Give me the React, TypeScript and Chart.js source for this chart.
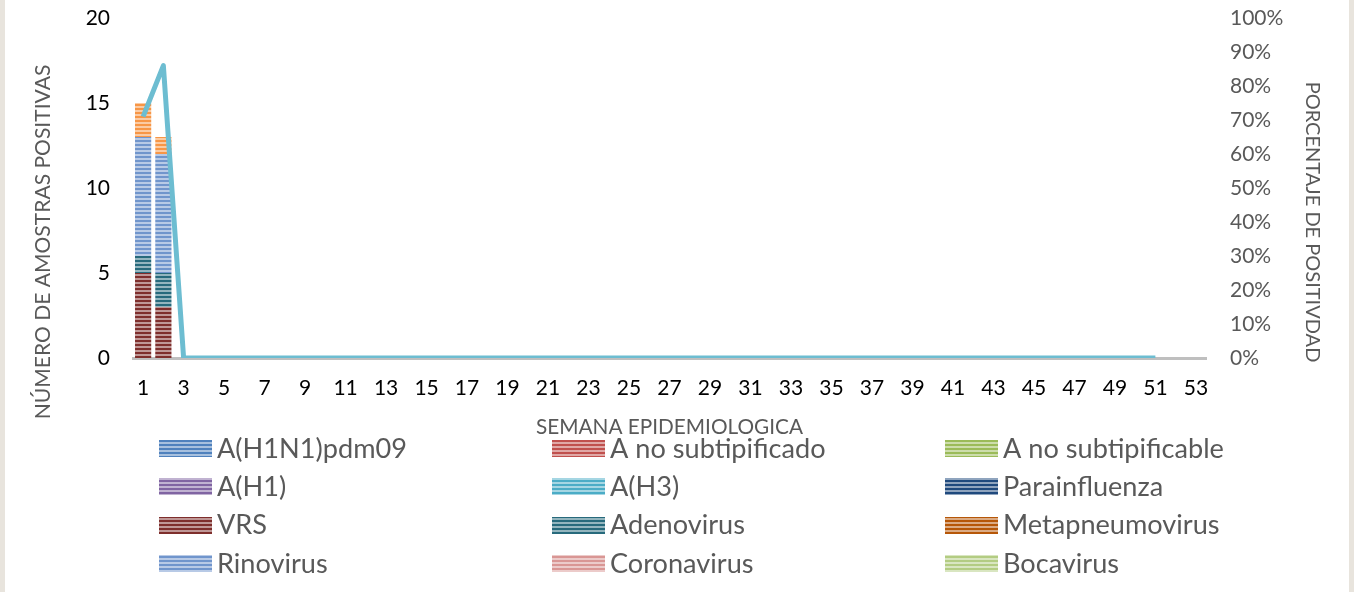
import React, { useEffect, useRef } from 'react';
import { Chart, registerables } from 'chart.js';

Chart.register(...registerables);

const WEEKS = ['1','2','3','4','5','6','7','8','9','10','11','12','13','14','15','16','17','18','19','20','21','22','23','24','25','26','27','28','29','30','31','32','33','34','35','36','37','38','39','40','41','42','43','44','45','46','47','48','49','50','51','52','53'];

const ZEROS = [0,0,0,0,0,0,0,0,0,0,0,0,0,0,0,0,0,0,0,0,0,0,0,0,0,0,0,0,0,0,0,0,0,0,0,0,0,0,0,0,0,0,0,0,0,0,0,0,0,0,0,0,0];
const VRS = [5,3,0,0,0,0,0,0,0,0,0,0,0,0,0,0,0,0,0,0,0,0,0,0,0,0,0,0,0,0,0,0,0,0,0,0,0,0,0,0,0,0,0,0,0,0,0,0,0,0,0,0,0];
const ADENOVIRUS = [1,2,0,0,0,0,0,0,0,0,0,0,0,0,0,0,0,0,0,0,0,0,0,0,0,0,0,0,0,0,0,0,0,0,0,0,0,0,0,0,0,0,0,0,0,0,0,0,0,0,0,0,0];
const RINOVIRUS = [7,7,0,0,0,0,0,0,0,0,0,0,0,0,0,0,0,0,0,0,0,0,0,0,0,0,0,0,0,0,0,0,0,0,0,0,0,0,0,0,0,0,0,0,0,0,0,0,0,0,0,0,0];
const METAPNEUMOVIRUS = [2,1,0,0,0,0,0,0,0,0,0,0,0,0,0,0,0,0,0,0,0,0,0,0,0,0,0,0,0,0,0,0,0,0,0,0,0,0,0,0,0,0,0,0,0,0,0,0,0,0,0,0,0];
const POSITIVIDAD = [71,86,0,0,0,0,0,0,0,0,0,0,0,0,0,0,0,0,0,0,0,0,0,0,0,0,0,0,0,0,0,0,0,0,0,0,0,0,0,0,0,0,0,0,0,0,0,0,0,0,0,null,null];

const Y_TICKS_MAX = 20;
const Y2_TICKS_MAX = 100;

const TITLE_LEFT = 'NÚMERO DE AMOSTRAS POSITIVAS';
const TITLE_RIGHT = 'PORCENTAJE DE POSITIVDAD';
const TITLE_X = 'SEMANA EPIDEMIOLOGICA';
const LINE_LABEL = '% Positividad';

// legend order (3 columns, row by row)
const SERIES = [
  { name: 'A(H1N1)pdm09', color: '#4F81BD', data: ZEROS },
  { name: 'A no subtipificado', color: '#C0504D', data: ZEROS },
  { name: 'A no subtipificable', color: '#9BBB59', data: ZEROS },
  { name: 'A(H1)', color: '#8064A2', data: ZEROS },
  { name: 'A(H3)', color: '#4BACC6', data: ZEROS },
  { name: 'Parainfluenza', color: '#1F497D', data: ZEROS },
  { name: 'VRS', color: '#7E2E2C', data: VRS },
  { name: 'Adenovirus', color: '#276A7C', data: ADENOVIRUS },
  { name: 'Metapneumovirus', color: '#B65708', barColor: '#F79646', data: METAPNEUMOVIRUS, stackLast: true },
  { name: 'Rinovirus', color: '#7095CC', data: RINOVIRUS },
  { name: 'Coronavirus', color: '#D99694', data: ZEROS },
  { name: 'Bocavirus', color: '#B3CC82', data: ZEROS },
];

const FONT = 'Lato';

function mix(hex: string, t: number) {
  const n = parseInt(hex.slice(1), 16);
  const r = (n >> 16) & 255, g = (n >> 8) & 255, b = n & 255;
  const m = (v: number) => Math.round(v + (255 - v) * t);
  return `rgb(${m(r)},${m(g)},${m(b)})`;
}

function stripes(color: string) {
  const c = document.createElement('canvas');
  c.width = 4; c.height = 4;
  const g = c.getContext('2d')!;
  g.fillStyle = mix(color, 0.5);
  g.fillRect(0, 0, 4, 4);
  g.fillStyle = color;
  g.fillRect(0, 0, 4, 2);
  return g.createPattern(c, 'repeat')!;
}

function fitSize(ctx: CanvasRenderingContext2D, text: string, target: number) {
  ctx.font = `100px ${FONT}`;
  const w = ctx.measureText(text).width;
  return (100 * target) / w;
}

const overlayPlugin = {
  id: 'overlay',
  afterDraw(chart: any) {
    const ctx: CanvasRenderingContext2D = chart.ctx;
    const ca = chart.chartArea;
    ctx.save();
    ctx.fillStyle = '#595959';
    ctx.textAlign = 'center';
    ctx.textBaseline = 'middle';

    // x title
    let s = fitSize(ctx, TITLE_X, 267);
    ctx.font = `${s}px ${FONT}`;
    ctx.fillText(TITLE_X, (ca.left + ca.right) / 2, 427);

    // left title
    s = fitSize(ctx, TITLE_LEFT, 355);
    ctx.save();
    ctx.translate(43, 242);
    ctx.rotate(-Math.PI / 2);
    ctx.font = `${s}px ${FONT}`;
    ctx.fillText(TITLE_LEFT, 0, 0);
    ctx.restore();

    // right title
    s = fitSize(ctx, TITLE_RIGHT, 281);
    ctx.save();
    ctx.translate(1312, 222);
    ctx.rotate(Math.PI / 2);
    ctx.font = `${s}px ${FONT}`;
    ctx.fillText(TITLE_RIGHT, 0, 0);
    ctx.restore();

    // legend
    const ls = fitSize(ctx, 'A no subtipificable', 221);
    ctx.font = `${ls}px ${FONT}`;
    ctx.textAlign = 'left';
    SERIES.forEach((sr, i) => {
      const col = i % 3;
      const row = Math.floor(i / 3);
      const x = 159 + col * 393;
      const y = 448 + row * 38.3;
      ctx.fillStyle = stripes(sr.color);
      ctx.fillRect(x, Math.round(y - 8), 53, 17);
      ctx.fillStyle = '#595959';
      ctx.fillText(sr.name, x + 58, y + 1);
    });
    ctx.restore();
  },
};

export default function App() {
  const ref = useRef<HTMLCanvasElement | null>(null);

  useEffect(() => {
    const canvas = ref.current!;
    const barSets = SERIES.map((sr) => ({
      type: 'bar' as const,
      label: sr.name,
      data: sr.data,
      backgroundColor: stripes(sr.barColor || sr.color),
      borderWidth: 0,
      yAxisID: 'y',
      stack: 'virus',
      order: sr.stackLast ? 2 : 1,
      barPercentage: 0.8,
      categoryPercentage: 1,
    }));
    const chart = new Chart(canvas, {
      type: 'bar',
      data: {
        labels: WEEKS,
        datasets: [
          ...barSets,
          {
            type: 'line' as const,
            label: LINE_LABEL,
            data: POSITIVIDAD,
            borderColor: '#6DBDD1',
            backgroundColor: '#6DBDD1',
            borderWidth: 5,
            pointRadius: 0,
            tension: 0,
            yAxisID: 'y2',
            order: 0,
            borderJoinStyle: 'round',
            borderCapStyle: 'butt',
            spanGaps: false,
          } as any,
        ],
      },
      options: {
        animation: false,
        responsive: false,
        devicePixelRatio: 1,
        layout: { padding: { top: 18, left: 0, right: 0, bottom: 0 } },
        plugins: {
          legend: { display: false },
          title: { display: false },
          tooltip: { enabled: false },
        },
        scales: {
          x: {
            type: 'category',
            stacked: true,
            grid: { display: false, drawTicks: false },
            border: { display: true, color: '#BFBFBF', width: 3 },
            ticks: {
              autoSkip: false,
              maxRotation: 0,
              padding: 18,
              color: '#000000',
              font: { family: FONT, size: 21 },
              callback: (_v: any, i: number) => (i % 2 === 0 ? WEEKS[i] : ''),
            },
            afterFit: (sc: any) => { sc.height = 234; sc.paddingLeft = 0; sc.paddingRight = 0; },
          },
          y: {
            type: 'linear',
            position: 'left',
            stacked: true,
            min: 0,
            max: Y_TICKS_MAX,
            grid: { display: false, drawTicks: false },
            border: { display: false },
            ticks: { stepSize: 5, padding: 23, color: '#000000', font: { family: FONT, size: 21 } },
            afterFit: (sc: any) => { sc.width = 133; sc.paddingTop = 0; sc.paddingBottom = 0; },
          },
          y2: {
            type: 'linear',
            position: 'right',
            min: 0,
            max: Y2_TICKS_MAX,
            grid: { display: false, drawTicks: false },
            border: { display: false },
            ticks: {
              stepSize: 10,
              padding: 24,
              color: '#595959',
              font: { family: FONT, size: 21 },
              callback: (v: any) => `${v}%`,
            },
            afterFit: (sc: any) => { sc.width = 148; sc.paddingTop = 0; sc.paddingBottom = 0; },
          },
        },
      },
      plugins: [overlayPlugin],
    } as any);
    return () => chart.destroy();
  }, []);

  return (
    <div style={{ position: 'absolute', left: 0, top: 0, width: 1354, height: 592, background: '#ffffff', overflow: 'hidden' }}>
      <canvas ref={ref} width={1354} height={592} style={{ display: 'block', position: 'absolute', left: 0, top: 0 }} />
      <div style={{ position: 'absolute', left: 0, top: 0, width: 5, height: 592, background: '#E8E4DD' }} />
      <div style={{ position: 'absolute', left: 1349, top: 0, width: 5, height: 592, background: '#E8E4DD' }} />
    </div>
  );
}
